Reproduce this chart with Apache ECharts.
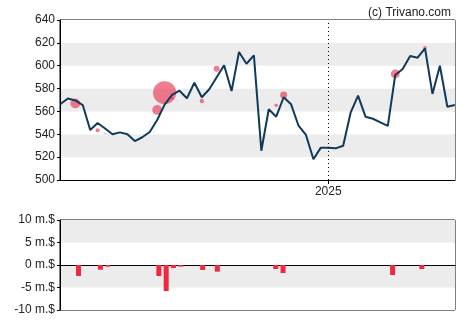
<!DOCTYPE html>
<html>
<head>
<meta charset="utf-8">
<script src="https://cdn.jsdelivr.net/npm/echarts@6/dist/echarts.min.js"></script>
<style>
  html, body { margin: 0; padding: 0; background: #fff; }
  #chart { width: 470px; height: 325px; }
</style>
</head>
<body>
<div id="chart"></div>
<script>
// Weekly closing prices
const weeks = [
  '2024-04-24','2024-05-01','2024-05-08','2024-05-15','2024-05-22','2024-05-29','2024-06-05','2024-06-12',
  '2024-06-19','2024-06-26','2024-07-03','2024-07-10','2024-07-17','2024-07-24','2024-07-31','2024-08-07',
  '2024-08-14','2024-08-21','2024-08-28','2024-09-04','2024-09-11','2024-09-18','2024-09-25','2024-10-02',
  '2024-10-09','2024-10-16','2024-10-23','2024-10-30','2024-11-06','2024-11-13','2024-11-20','2024-11-27',
  '2024-12-04','2024-12-11','2024-12-18','2024-12-25','2025-01-01','2025-01-08','2025-01-15','2025-01-22',
  '2025-01-29','2025-02-05','2025-02-12','2025-02-19','2025-02-26','2025-03-05','2025-03-12','2025-03-19',
  '2025-03-26','2025-04-02','2025-04-09','2025-04-16','2025-04-23','2025-04-30'
];
const closePrices = [
  566.5, 571.3, 569.6, 565.6, 543.8, 549.9, 545.1, 540.0,
  541.7, 540.0, 534.1, 537.4, 542.0, 552.5, 566.0, 574.4,
  578.1, 571.5, 585.1, 572.4, 579.4, 589.9, 600.4, 577.9,
  612.0, 601.7, 609.1, 525.6, 561.9, 555.4, 572.4, 566.2,
  547.5, 539.4, 518.1, 528.3, 528.3, 527.7, 530.0, 558.9,
  573.8, 555.4, 553.6, 550.5, 547.3, 591.9, 597.1, 608.5,
  607.0, 615.2, 575.3, 600.0, 564.1, 565.6
];

// Insider transactions: date, price, amount in millions of dollars
const tradeDates = [
  '2024-05-08','2024-05-29','2024-06-05','2024-07-24','2024-07-31','2024-08-07','2024-08-14',
  '2024-09-04','2024-09-18','2024-11-13','2024-11-20','2025-03-05','2025-04-02'
];
const tradePrices = [567.0, 543.5, 540.8, 561.3, 576.4, 571.5, 578.0, 569.1, 597.4, 565.4, 574.4, 592.8, 615.8];
const tradeAmounts = [-2.44, -1.04, -0.37, -2.44, -5.78, -0.67, -0.37, -1.10, -1.48, -0.89, -1.78, -2.22, -0.89];

const yearMark = '2025-01-01';
const copyright = '(c) Trivano.com';

const FONT = 'Liberation Sans, Arial, sans-serif';
const ts = s => echarts.time.parse(s).getTime();
const yearTs = ts(yearMark);

const chart = echarts.init(document.getElementById('chart'), null, { renderer: 'canvas' });

const bandArea = { show: true, areaStyle: { color: ['#ffffff', '#ececec'] } };

chart.setOption({
  animation: false,
  backgroundColor: '#ffffff',
  title: {
    text: copyright,
    right: 14,
    top: 2,
    textStyle: { fontFamily: FONT, fontSize: 12, fontWeight: 'normal', color: '#222' }
  },
  grid: [
    { left: 60, right: 15, top: 20, height: 160, show: true, borderColor: '#000', borderWidth: 1, backgroundColor: 'transparent' },
    { left: 60, right: 15, top: 220, height: 90, show: true, borderColor: '#000', borderWidth: 1, backgroundColor: 'transparent' }
  ],
  xAxis: [
    {
      type: 'value', gridIndex: 0,
      min: ts('2024-04-23 14:00:00'), max: ts('2025-04-30 05:00:00'),
      axisLine: { show: true, lineStyle: { color: '#000', width: 1 } },
      axisTick: { show: true, customValues: [yearTs], length: 4, lineStyle: { color: '#000' } },
      axisLabel: {
        show: true, customValues: [yearTs], margin: 6,
        formatter: v => String(new Date(v).getFullYear()),
        fontFamily: FONT, fontSize: 12, color: '#222'
      },
      splitLine: { show: false }
    },
    {
      type: 'value', gridIndex: 1,
      min: ts('2024-04-20 06:00:00'), max: ts('2025-05-03 19:00:00'),
      axisLine: { show: true, onZero: true, lineStyle: { color: '#000', width: 1 } },
      axisTick: { show: false },
      axisLabel: { show: false },
      splitLine: { show: false }
    }
  ],
  yAxis: [
    {
      type: 'value', gridIndex: 0, min: 500, max: 640, interval: 20,
      axisLine: { show: true, lineStyle: { color: '#000' } },
      axisTick: { show: true, length: 3, lineStyle: { color: '#000' } },
      axisLabel: { fontFamily: FONT, fontSize: 12, color: '#222', margin: 5 },
      splitLine: { show: false },
      splitArea: bandArea
    },
    {
      type: 'value', gridIndex: 1, min: -10, max: 10, interval: 5,
      axisLine: { show: true, lineStyle: { color: '#000' } },
      axisTick: { show: true, length: 3, lineStyle: { color: '#000' } },
      axisLabel: { fontFamily: FONT, fontSize: 12, color: '#222', margin: 5, formatter: '{value} m.$' },
      splitLine: { show: false },
      splitArea: bandArea
    }
  ],
  series: [
    {
      type: 'scatter', xAxisIndex: 0, yAxisIndex: 0, z: 2,
      data: tradeDates.map((d, i) => [ts(d), tradePrices[i], tradeAmounts[i]]),
      symbolSize: v => Math.max(1.5, 4 * Math.abs(v[2])),
      itemStyle: { color: 'rgba(234, 52, 78, 0.8)' }
    },
    {
      type: 'line', xAxisIndex: 0, yAxisIndex: 0, z: 3,
      data: weeks.map((d, i) => [ts(d), closePrices[i]]),
      symbol: 'none',
      lineStyle: { color: '#0f3a5a', width: 2 },
      markLine: {
        silent: true, symbol: 'none', label: { show: false },
        lineStyle: { color: '#000', type: [1, 3], width: 1 },
        data: [{ xAxis: yearTs }]
      }
    },
    {
      type: 'bar', xAxisIndex: 1, yAxisIndex: 1,
      data: tradeDates.map((d, i) => [ts(d), tradeAmounts[i]]),
      barWidth: 5,
      itemStyle: { color: '#f0283f' }
    }
  ]
});
</script>
</body>
</html>
